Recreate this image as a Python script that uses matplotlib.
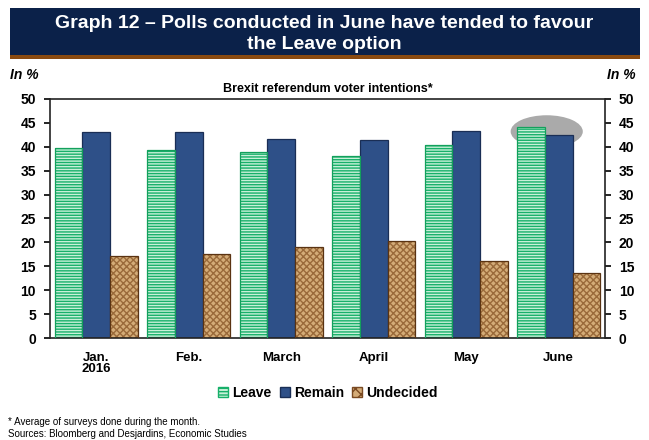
import matplotlib.pyplot as plt
from matplotlib.patches import Ellipse, Rectangle, Patch
import numpy as np

months = ["Jan.\n2016", "Feb.", "March", "April", "May", "June"]
leave = [39.8, 39.4, 39.0, 38.1, 40.3, 44.1]
remain = [43.0, 43.0, 41.6, 41.4, 43.3, 42.4]
undecided = [17.2, 17.6, 19.1, 20.2, 16.1, 13.7]
yticks = [0, 5, 10, 15, 20, 25, 30, 35, 40, 45, 50]

plt.rcParams['font.family'] = ['Liberation Sans', 'DejaVu Sans']
plt.rcParams['hatch.linewidth'] = 1.0

fig = plt.figure(figsize=(6.49, 4.4), dpi=100)
ax = fig.add_axes([50/649, 1-338/440, 555/649, 239/440])

x = np.arange(len(months))
w = 0.3

# grey highlight behind June bars
ax.add_patch(Ellipse((4.87, 43.2), 0.78, 6.8, facecolor="#aaaaaa",
                     edgecolor="none", zorder=0))

# hatch fills first, outlines drawn on top
ax.bar(x - w, leave, w, color="#c8f0d8", edgecolor="#17b06a", hatch="------",
       linewidth=0, zorder=2)
ax.bar(x - w, leave, w, color="none", edgecolor="#13a05c", linewidth=0.9,
       zorder=3)
ax.bar(x, remain, w, color="#2e5088", edgecolor="#1a2e55",
       linewidth=0.9, zorder=2)
ax.bar(x + w, undecided, w, color="#d4ac78", edgecolor="#9a6a3a", hatch="xxxxx",
       linewidth=0, zorder=2)
ax.bar(x + w, undecided, w, color="none", edgecolor="#5a3312", linewidth=0.9,
       zorder=3)

# legend handles
handles = [Patch(facecolor="#c8f0d8", edgecolor="#17b06a", hatch="-----", label="Leave"),
           Patch(facecolor="#2e5088", edgecolor="#1a2e55", label="Remain"),
           Patch(facecolor="#d4ac78", edgecolor="#7a4a22", hatch="xxx", label="Undecided")]

ax.set_xlim(-0.5, 5.5)
ax.set_ylim(0, 50)
ax.set_yticks(yticks)
ax.set_xticks(x)
ax.set_xticklabels(months, fontweight="bold", fontsize=9.5, linespacing=0.9)
ax.tick_params(axis="x", length=0, pad=10)
ax.tick_params(axis="y", direction="out", length=4, width=1.2,
               labelsize=10, pad=6, right=True, labelright=True)
for lab in ax.get_yticklabels(which="both"):
    lab.set_fontweight("bold")
for s in ax.spines.values():
    s.set_linewidth(1.2)
    s.set_color("#222222")

# title banner
fig.patches.append(Rectangle((10/649, 1-55/440), 630/649, 47/440,
                             transform=fig.transFigure, facecolor="#0b2149",
                             edgecolor="none"))
fig.patches.append(Rectangle((10/649, 1-59/440), 630/649, 4/440,
                             transform=fig.transFigure, facecolor="#8a4a10",
                             edgecolor="none"))
fig.text(0.5, 1-34/440, "Graph 12 – Polls conducted in June have tended to favour\nthe Leave option",
         ha="center", va="center", color="white", fontsize=14,
         fontweight="bold", linespacing=1.3)

fig.text(10/649, 1-75/440, "In %", fontsize=10, fontweight="bold",
         fontstyle="italic", va="center")
fig.text(636/649, 1-75/440, "In %", fontsize=10, fontweight="bold",
         fontstyle="italic", va="center", ha="right")
fig.text(328/649, 1-89/440, "Brexit referendum voter intentions*",
         fontsize=9, fontweight="bold", ha="center", va="center")

fig.legend(handles=handles, loc="center", bbox_to_anchor=(328/649, 1-393/440),
           ncol=3, frameon=False, prop={"weight": "bold", "size": 10},
           handlelength=0.7, handleheight=0.7, handletextpad=0.3,
           columnspacing=0.6)

fig.text(8/649, 1-422/440, "* Average of surveys done during the month.",
         fontsize=7, va="center")
fig.text(8/649, 1-434/440, "Sources: Bloomberg and Desjardins, Economic Studies",
         fontsize=7, va="center")

fig.savefig("out.png", dpi=100)
